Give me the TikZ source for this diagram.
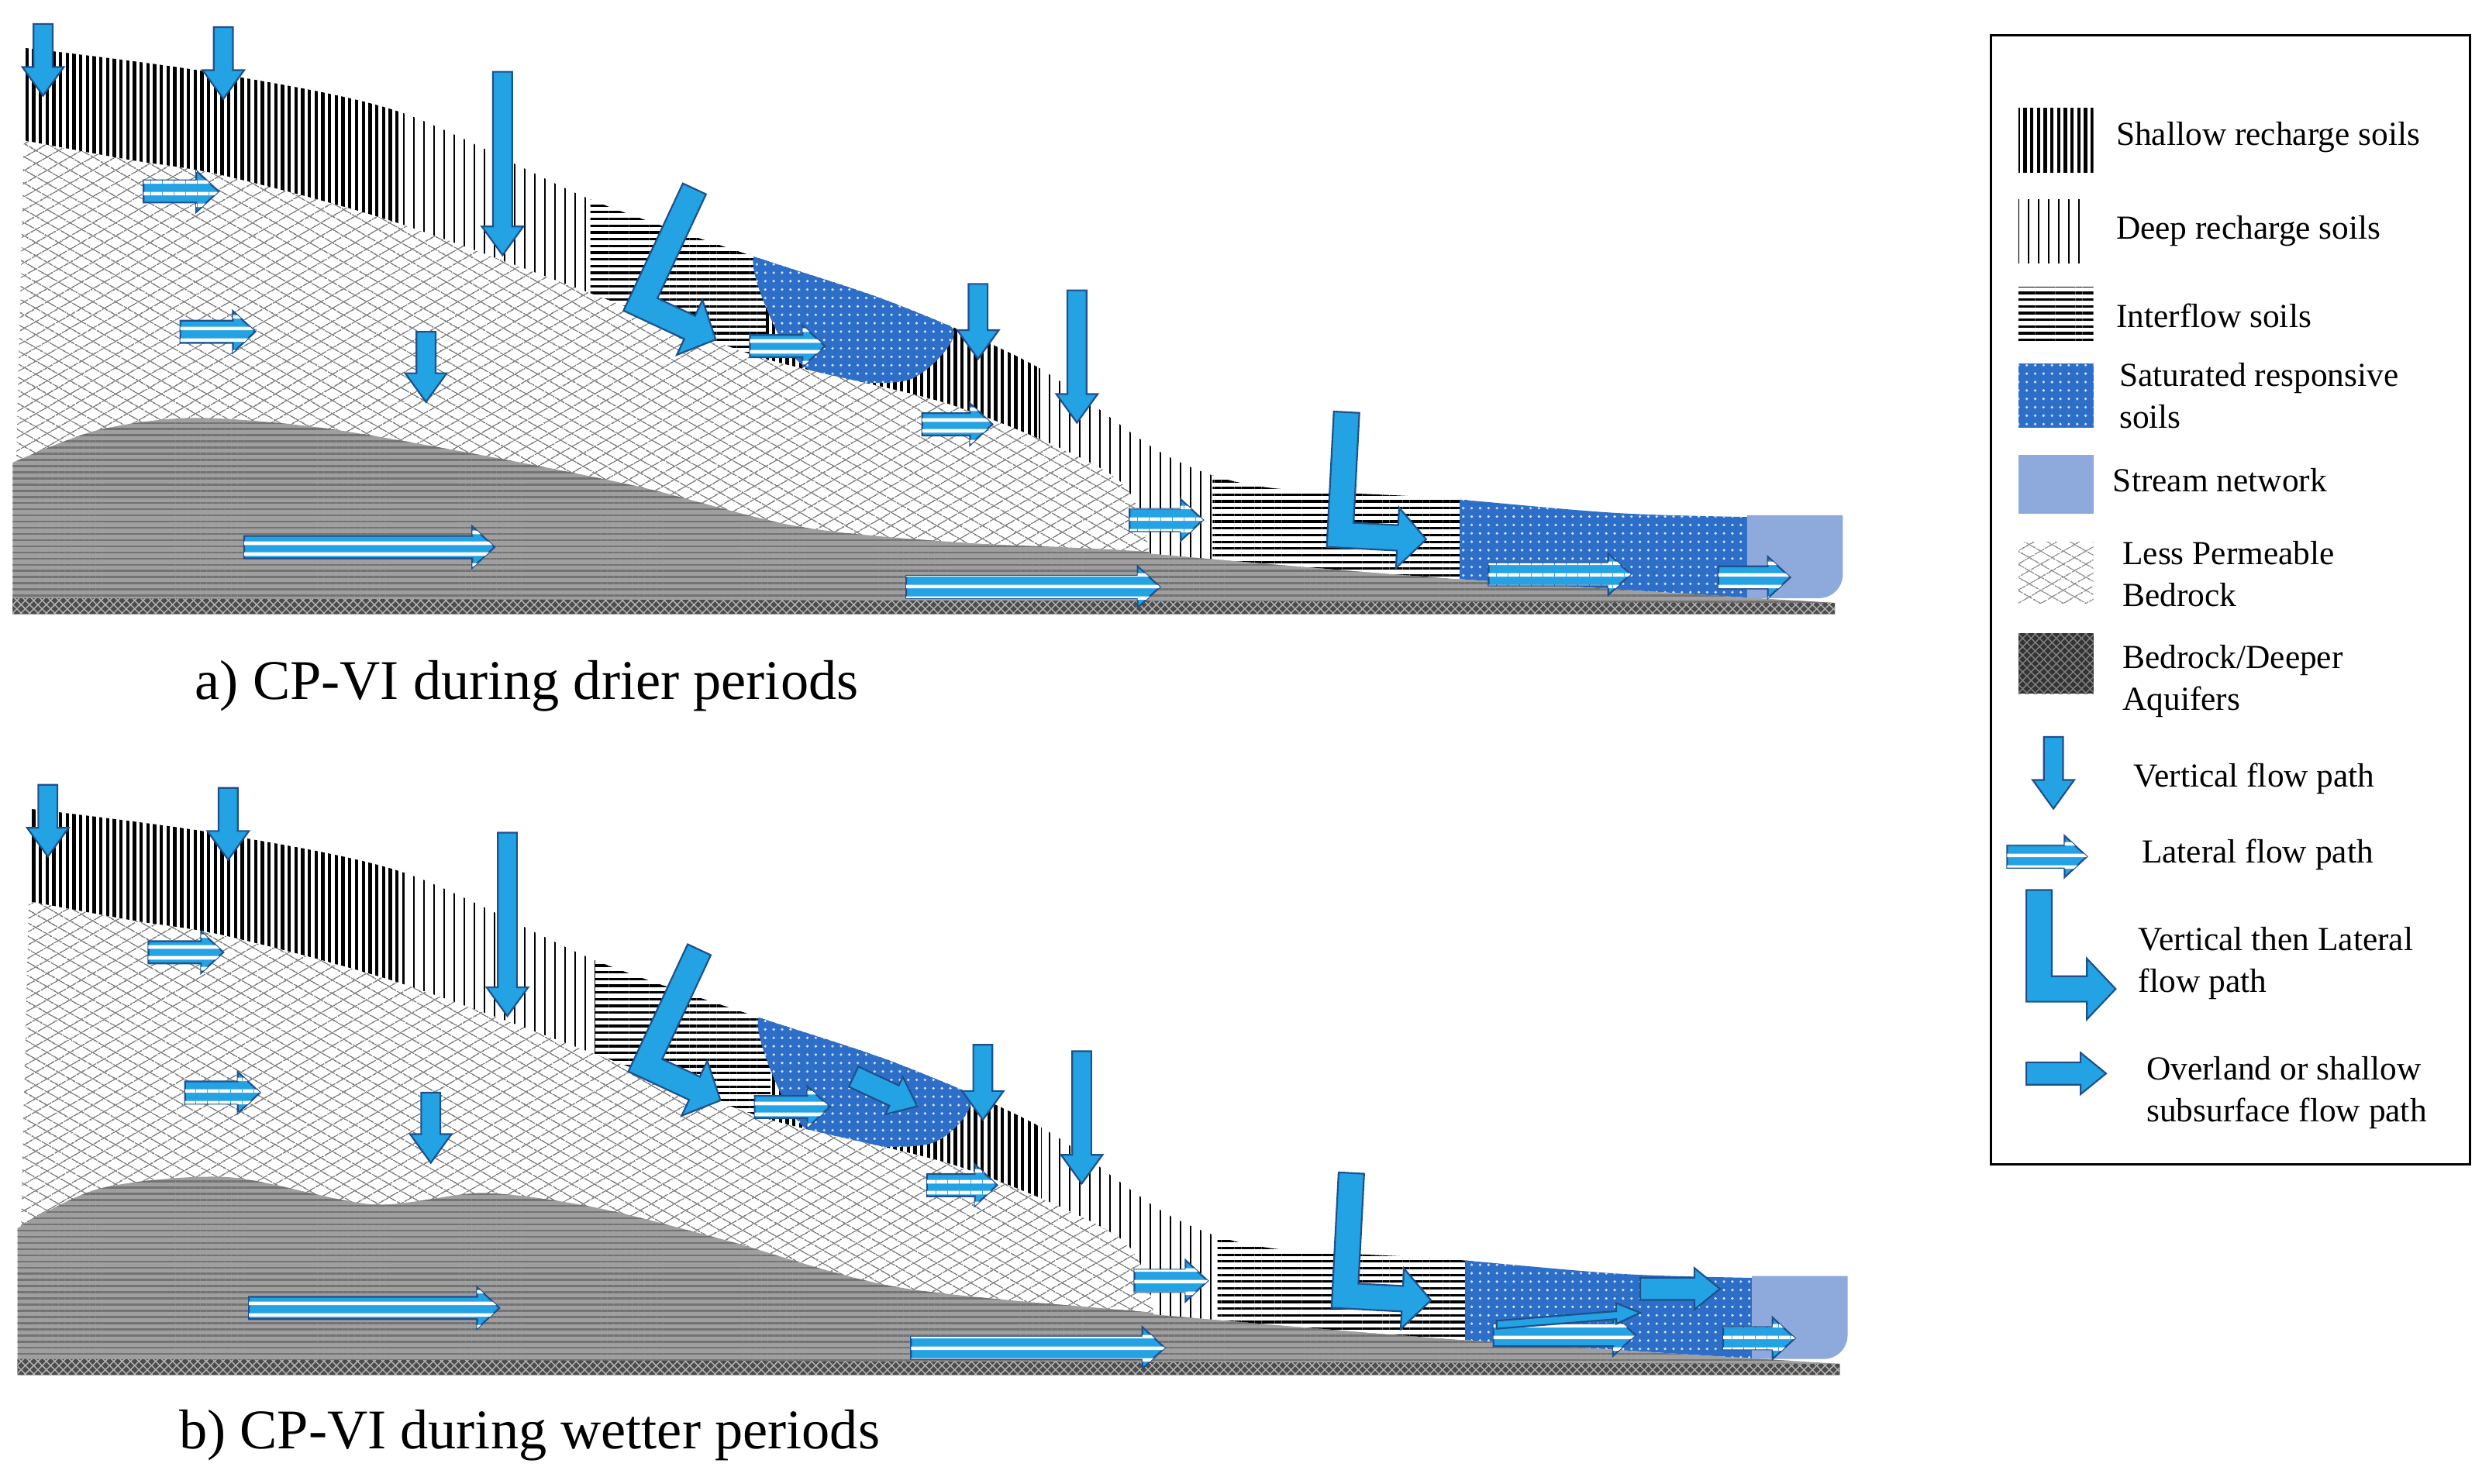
\documentclass[tikz,border=0pt]{standalone}
\usepackage{fontspec}
\setmainfont{Liberation Serif}
\usetikzlibrary{patterns,patterns.meta}
\definecolor{flowc}{RGB}{35,162,228}
\definecolor{flowe}{RGB}{30,80,140}
\definecolor{satc}{RGB}{45,110,200}
\definecolor{streamc}{RGB}{142,169,219}
\tikzset{
 flow/.style={draw=flowe,line width=0.6pt,fill=flowc,line join=miter},
 latflow/.style={draw=flowe,line width=0.6pt,fill=flowc,postaction={pattern={Lines[angle=0,distance=4pt,line width=1.3pt]},pattern color=white}},
 shallowp/.style={fill=white,postaction={pattern={Lines[angle=90,distance=2.4pt,line width=1.2pt]},pattern color=black}},
 deepp/.style={fill=white,postaction={pattern={Lines[angle=90,distance=3.6pt,line width=0.5pt]},pattern color=black}},
 interp/.style={fill=white,postaction={pattern={Lines[angle=0,distance=2.4pt,line width=0.9pt]},pattern color=black}},
 satp/.style={fill=satc,postaction={pattern={Dots[distance=3pt,radius=0.5pt]},pattern color=white!80!satc}},
 rockp/.style={fill=white,postaction={pattern={Lines[angle=30,distance=4pt,line width=0.4pt]},pattern color=gray},postaction={pattern={Lines[angle=-30,distance=4pt,line width=0.4pt]},pattern color=gray}},
 aqup/.style={fill=gray!75,postaction={pattern={Lines[angle=0,distance=2.2pt,line width=0.7pt]},pattern color=black!55}},
 legtxt/.style={anchor=west,font=\fontsize{12}{15}\selectfont,align=left,inner sep=0pt},
 captxt/.style={anchor=west,font=\fontsize{20}{24}\selectfont,inner sep=0pt},
}
\newcommand\vflow[3]{\filldraw[flow] (#1-6,#2) -- (#1+6,#2) -- (#1+6,#3-18) -- (#1+13,#3-18) -- (#1,#3) -- (#1-13,#3-18) -- (#1-6,#3-18) -- cycle;}
\newcommand\lflow[3]{\path[latflow] (#1,#3-7) -- (#2-14,#3-7) -- (#2-14,#3-13) -- (#2,#3) -- (#2-14,#3+13) -- (#2-14,#3+7) -- (#1,#3+7) -- cycle;}
\newcommand\oflow[3]{\filldraw[flow] (#1,#3-7) -- (#2-16,#3-7) -- (#2-16,#3-13) -- (#2,#3) -- (#2-16,#3+13) -- (#2-16,#3+7) -- (#1,#3+7) -- cycle;}
\newcommand\Lflow[5]{\begin{scope}[shift={(#1,#2)},rotate=#3]
 \filldraw[flow] (0,0) -- (16,0) -- (16,#4-16) -- (#5-18,#4-16) -- (#5-18,#4-27) -- (#5,#4-8) -- (#5-18,#4+11) -- (#5-18,#4) -- (0,#4) -- cycle;
 \end{scope}}
\newcommand\soilpath{(15,30) -- plot[smooth] coordinates {(15,30)(130,45)(250,70)(370,125)(470,160)(560,190)(650,230)(730,285)(790,305)(900,312)(1020,322)(1150,325)} -- (1150,378) -- plot[smooth] coordinates {(1150,378)(900,362)(720,347)} -- plot[smooth] coordinates {(720,345)(700,300)(600,255)(480,225)(400,195)(250,140)(140,110)(80,100)(15,88)} -- cycle}
\newcommand\panel[2]{%
 \path[rockp] plot[smooth] coordinates {(15,88)(80,100)(140,110)(250,140)(400,195)(480,225)(600,255)(700,300)(720,345)} -- (720,380) -- (8,380) -- cycle;
 \path[aqup] plot[smooth] coordinates {#1} -- (1150,385) -- (8,385) -- cycle;
 \path[fill=black!70,postaction={pattern=crosshatch,pattern color=gray!60}] (8,375) -- (1150,378) -- (1150,385) -- (8,385) -- cycle;
 \begin{scope}
 \clip \soilpath;
 \path[shallowp] (0,0) rectangle (250,400);
 \path[deepp] (250,0) rectangle (370,400);
 \path[interp] (370,0) rectangle (480,400);
 \path[shallowp] (480,0) rectangle (650,400);
 \path[deepp] (650,0) rectangle (760,400);
 \path[interp] (760,0) rectangle (920,400);
 \path[satp] (915,0) rectangle (1100,400);
 \path[satp] plot[smooth cycle] coordinates {#2};
 \end{scope}
 \path[fill=streamc] (1095,323) -- (1155,323) -- (1155,360) to[out=-90,in=0] (1140,375) -- (1095,375) -- cycle;
 \vflow{27}{15}{60}\vflow{140}{17}{62}\vflow{315}{45}{160}\vflow{267}{208}{252}\vflow{613}{178}{225}\vflow{675}{182}{265}
 \lflow{90}{137}{120}\lflow{113}{160}{208}\lflow{470}{517}{217}\lflow{578}{622}{266}\lflow{708}{754}{326}
 \lflow{153}{310}{343}\lflow{568}{727}{368}\lflow{933}{1022}{360}\lflow{1077}{1122}{362}
 \Lflow{428}{115}{-25}{88}{60}\Lflow{836}{258}{-3}{85}{62}
}
\begin{document}
\begin{tikzpicture}[x=0.02cm,y=-0.02cm]
\useasboundingbox[fill=white] (0,0) rectangle (1560,930);
\panel{(8,290)(60,270)(120,262)(200,268)(300,285)(400,305)(500,330)(600,340)(720,346)(900,362)(1150,378)}{(475,158)(560,188)(598,208)(570,238)(515,236)(488,210)}
\node[captxt] (capa) at (122,430) {a) CP-VI during drier periods};
\begin{scope}[shift={(3,477)}]
\panel{(8,293)(60,268)(140,261)(230,278)(300,271)(370,280)(450,300)(560,330)(720,346)(900,362)(1150,378)}{(475,158)(560,188)(605,212)(580,240)(515,238)(488,212)}
\begin{scope}[shift={(532,198)},rotate=-25]\filldraw[flow] (0,-7) -- (28,-7) -- (28,-13) -- (44,0) -- (28,13) -- (28,7) -- (0,7) -- cycle;\end{scope}
\oflow{1025}{1075}{331}
\filldraw[flow] (935,351) -- (1010,345) -- (1010,340) -- (1025,346) -- (1010,353) -- (1010,350) -- (935,356) -- cycle;
\end{scope}
\node[captxt] (capb) at (112,900) {b) CP-VI during wetter periods};
\draw[line width=0.8pt] (1248,22) rectangle (1548,730);
\path[shallowp] (1265,68) rectangle (1312,108);
\node[legtxt] at (1326,86) {Shallow recharge soils};
\path[deepp] (1265,125) rectangle (1306,165);
\node[legtxt] at (1326,145) {Deep recharge soils};
\path[interp] (1265,180) rectangle (1312,215);
\node[legtxt] at (1326,198) {Interflow soils};
\path[satp] (1265,228) rectangle (1312,268);
\node[legtxt] at (1328,248) {Saturated responsive\\soils};
\path[fill=streamc] (1265,285) rectangle (1312,322);
\node[legtxt] at (1324,301) {Stream network};
\path[rockp] (1265,340) rectangle (1312,378);
\node[legtxt] at (1330,360) {Less Permeable\\Bedrock};
\path[fill=black!80,postaction={pattern=crosshatch,pattern color=gray}] (1265,397) rectangle (1312,435);
\node[legtxt] at (1330,427) {Bedrock/Deeper\\Aquifers};
\vflow{1287}{462}{507}
\node[legtxt] at (1337,488) {Vertical flow path};
\lflow{1258}{1308}{537}
\node[legtxt] at (1342,536) {Lateral flow path};
\Lflow{1270}{558}{0}{70}{56}
\node[legtxt] at (1340,604) {Vertical then Lateral\\flow path};
\oflow{1270}{1320}{673}
\node[legtxt] at (1345,685) {Overland or shallow\\subsurface flow path};
\end{tikzpicture}
\end{document}
